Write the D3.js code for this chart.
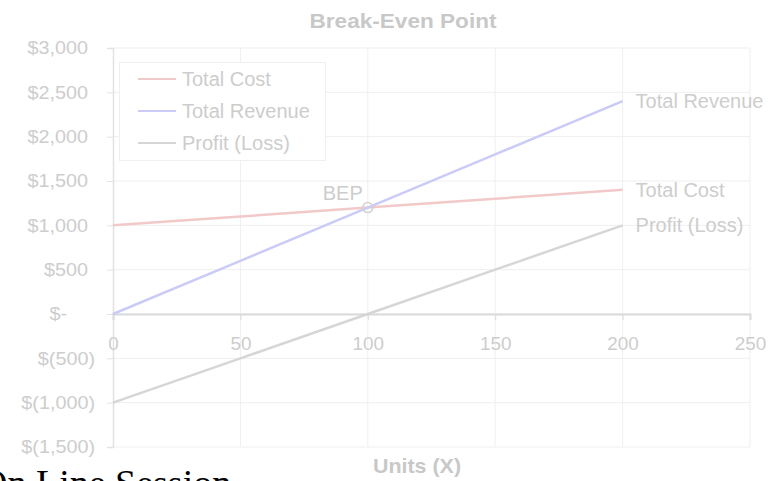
<!DOCTYPE html>
<html>
<head>
<meta charset="utf-8">
<script src="https://cdn.jsdelivr.net/npm/d3@7"></script>
<style>
  html, body { margin: 0; padding: 0; background: #fff; overflow: hidden; }
  svg { display: block; font-family: "Liberation Sans", Arial, sans-serif; }
</style>
</head>
<body>
<svg id="chart" width="769" height="481"></svg>
<script>
// Break-even data: units sold vs. cost, revenue and profit
const units = [0, 50, 100, 150, 200];
const totalCost = [1000, 1100, 1200, 1300, 1400];
const totalRevenue = [0, 600, 1200, 1800, 2400];
const profitLoss = [-1000, -500, 0, 500, 1000];
const seriesNames = ["Total Cost", "Total Revenue", "Profit (Loss)"];
const seriesColors = ["#f2c9c9", "#cbcbf7", "#d6d6d6"];
const xTicks = [0, 50, 100, 150, 200, 250];
const yTicks = [-1500, -1000, -500, 0, 500, 1000, 1500, 2000, 2500, 3000];
const bep = { units: 100, value: 1200 };

const svg = d3.select("#chart");
const textColor = "#cdcdcd";

const x = d3.scaleLinear().domain([0, 250]).range([113, 750]);
const y = d3.scaleLinear().domain([-1500, 3000]).range([447, 48]);

// Accounting-style currency labels
const fmtMoney = v => {
  if (v === 0) return "$-";
  const s = d3.format(",")(Math.abs(v));
  return v < 0 ? "$(" + s + ")" : "$" + s;
};

// Widen a text horizontally around its own x anchor
function stretch(sel, k) {
  sel.each(function () {
    const t = d3.select(this);
    const ax = +t.attr("x") || 0;
    t.attr("transform", `translate(${ax},0) scale(${k},1) translate(${-ax},0)`);
  });
}

// Gridlines
const grid = svg.append("g");
grid.selectAll("line.h").data(yTicks).join("line")
  .attr("x1", x(0)).attr("x2", x(250))
  .attr("y1", d => y(d)).attr("y2", d => y(d))
  .attr("stroke", "#efefef").attr("stroke-width", 1);
grid.selectAll("line.v").data(xTicks.slice(1)).join("line")
  .attr("x1", d => x(d)).attr("x2", d => x(d))
  .attr("y1", y(3000)).attr("y2", y(-1500))
  .attr("stroke", "#efefef").attr("stroke-width", 1);

// Y axis
const yAxis = svg.append("g")
  .attr("transform", `translate(${x(0)},0)`)
  .call(d3.axisLeft(y).tickValues(yTicks).tickFormat(fmtMoney).tickSize(6));
yAxis.select(".domain").attr("stroke", "#e2e2e2").attr("stroke-width", 1.5);
yAxis.selectAll(".tick line").attr("stroke", "#e2e2e2");
yAxis.selectAll(".tick text")
  .attr("x", d => d === 0 ? -46 : (d < 0 ? -18 : -25))
  .attr("fill", textColor)
  .style("font-size", "18px").style("font-family", "Liberation Sans, Arial, sans-serif")
  .call(stretch, 1.1);

// X axis along the zero line
const xAxis = svg.append("g")
  .attr("transform", `translate(0,${y(0)})`)
  .call(d3.axisBottom(x).tickValues(xTicks).tickFormat(d3.format("d")).tickSize(6).tickPadding(17));
xAxis.select(".domain").attr("stroke", "#dadada").attr("stroke-width", 2);
xAxis.selectAll(".tick line").attr("stroke", "#dadada");
xAxis.selectAll(".tick text").attr("fill", textColor)
  .style("font-size", "18px").style("font-family", "Liberation Sans, Arial, sans-serif")
  .call(stretch, 1.05);

// Series lines
const series = [totalCost, totalRevenue, profitLoss];
const line = d3.line().x((d, i) => x(units[i])).y(d => y(d));
series.forEach((vals, k) => {
  svg.append("path").datum(vals)
    .attr("d", line)
    .attr("fill", "none")
    .attr("stroke", seriesColors[k])
    .attr("stroke-width", 2.5);
  // end-of-line label
  const last = vals.length - 1;
  svg.append("text")
    .attr("x", x(units[last]) + 13)
    .attr("y", y(vals[last]))
    .attr("dy", "0.35em")
    .attr("fill", textColor)
    .style("font-size", "20px")
    .text(seriesNames[k]);
});

// Break-even point marker
svg.append("circle")
  .attr("cx", x(bep.units)).attr("cy", y(bep.value)).attr("r", 5)
  .attr("fill", "none").attr("stroke", "#d2d2d2").attr("stroke-width", 1.5);
svg.append("text")
  .attr("x", x(bep.units) - 25).attr("y", y(bep.value) - 8)
  .attr("text-anchor", "middle")
  .attr("fill", textColor)
  .style("font-size", "20px")
  .text("BEP");

// Legend
const legend = svg.append("g");
legend.append("rect")
  .attr("x", 119.5).attr("y", 62.5).attr("width", 206).attr("height", 98)
  .attr("fill", "#fff").attr("stroke", "#efefef").attr("stroke-width", 1);
seriesNames.forEach((name, k) => {
  const ly = 79 + k * 32;
  legend.append("line")
    .attr("x1", 138).attr("x2", 176).attr("y1", ly).attr("y2", ly)
    .attr("stroke", seriesColors[k]).attr("stroke-width", 2);
  legend.append("text")
    .attr("x", 182).attr("y", ly).attr("dy", "0.35em")
    .attr("fill", textColor)
    .style("font-size", "20px")
    .text(name);
});

// Title and axis label
svg.append("text")
  .attr("x", 403).attr("y", 28).attr("text-anchor", "middle")
  .attr("fill", "#c8c8c8").style("font-size", "20px").style("font-weight", "bold")
  .text("Break-Even Point")
  .call(stretch, 1.13);
svg.append("text")
  .attr("x", 417).attr("y", 473).attr("text-anchor", "middle")
  .attr("fill", "#c8c8c8").style("font-size", "19.5px").style("font-weight", "bold")
  .text("Units (X)")
  .call(stretch, 1.1);

// Session caption
svg.append("text")
  .attr("x", -20).attr("y", 496)
  .attr("fill", "#000")
  .style("font-family", "Liberation Serif, 'Times New Roman', serif")
  .style("font-size", "38px")
  .text("On Line Session");
</script>
</body>
</html>
